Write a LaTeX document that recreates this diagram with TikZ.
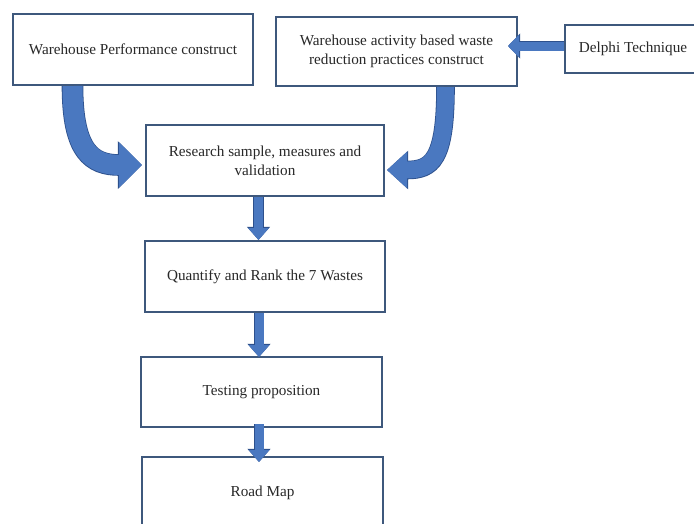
\documentclass[tikz,border=0pt]{standalone}
\usepackage{fontspec}
\setmainfont{Liberation Serif}
\usetikzlibrary{arrows.meta}
\definecolor{boxline}{RGB}{62,88,124}
\definecolor{arrfill}{RGB}{74,120,192}
\definecolor{arrline}{RGB}{45,80,140}
\definecolor{txt}{RGB}{40,40,40}
\tikzset{
  box/.style={draw=boxline, line width=2pt, fill=white, rectangle, inner sep=0pt,
    align=center, text=txt, font=\fontsize{15.2}{19}\selectfont},
  fatouter/.style n args={3}{draw=arrline, line width=#1+1.6pt,
    -{Triangle[length=#2+1.2pt, width=#3+2.4pt]}},
  fatinner/.style n args={3}{draw=arrfill, line width=#1,
    -{Triangle[length=#2, width=#3]}},
}
\begin{document}
\begin{tikzpicture}[x=1pt,y=-1pt]
\useasboundingbox (0,0) rectangle (694,523);
\clip (0,0) rectangle (694,523);
\fill[white] (0,0) rectangle (694,523);

% boxes
\node[box, minimum width=240pt, minimum height=71pt] (b1) at (133,49.5) {Warehouse Performance construct};
\node[box, minimum width=241pt, minimum height=69pt] (b2) at (396.5,51.5) {Warehouse activity based waste\\reduction practices construct};
\node[box, minimum width=136pt, minimum height=48pt] (del) at (633,49) {Delphi Technique};
\node[box, minimum width=238pt, minimum height=71pt] (res) at (265,160.5) {Research sample, measures and\\validation};
\node[box, minimum width=240pt, minimum height=71pt] (quant) at (265,276.5) {Quantify and Rank the 7 Wastes};
\node[box, minimum width=241pt, minimum height=70pt] (test) at (261.5,392) {Testing proposition};
\node[box, minimum width=241pt, minimum height=71pt] (road) at (262.5,492.5) {Road Map};

% curved arrow from b1 to res
\foreach \s in {fatouter,fatinner}{
  \draw[\s={20pt}{23pt}{44pt}] (72.5,0 |- b1.south) .. controls (72.5,152) and (92,165) .. ([shift={(-3,4.5)}]res.west);
}
% curved arrow from b2 to res
\foreach \s in {fatouter,fatinner}{
  \draw[\s={17pt}{20pt}{35pt}] (445.5,0 |- b2.south) .. controls (445.5,160) and (432,170) .. ([shift={(2,9.5)}]res.east);
}
% Delphi arrow
\foreach \s in {fatouter,fatinner}{
  \draw[\s={9pt}{11pt}{22pt}] ([shift={(0,-3)}]del.west) -- ([shift={(-10,-5.5)}]b2.east);
}
% straight down arrows
\foreach \s in {fatouter,fatinner}{
  \draw[\s={9pt}{12pt}{20pt}] (258.5,0 |- res.south) -- (258.5,0 |- quant.north);
  \draw[\s={9pt}{12pt}{20pt}] (259,0 |- quant.south) -- ([yshift=-1pt]259,0 |- test.north);
  \draw[\s={9pt}{12pt}{20pt}] ([yshift=4pt]259,0 |- test.south) -- ([yshift=-6pt]259,0 |- road.north);
}
\end{tikzpicture}
\end{document}
